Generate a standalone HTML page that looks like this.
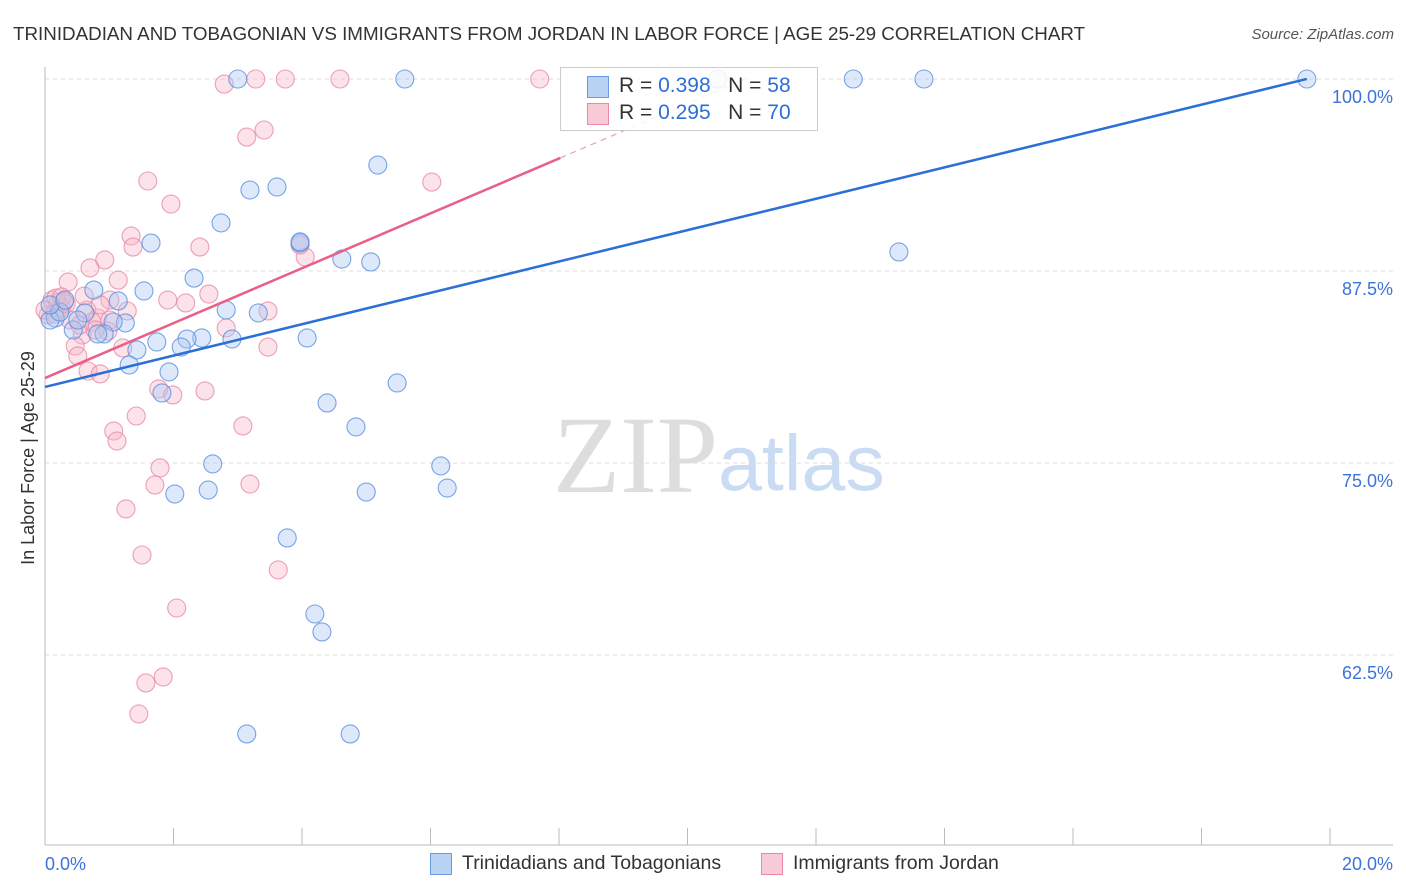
<!DOCTYPE html>
<html><head><meta charset="utf-8"><style>
body{margin:0;background:#fff;font-family:"Liberation Sans",sans-serif;}
#wrap{position:relative;width:1406px;height:892px;overflow:hidden}
</style></head><body>
<div id="wrap">
<svg id="svg" width="1406" height="892" xmlns="http://www.w3.org/2000/svg">
<text x="13" y="40" font-size="18.8" fill="#333">TRINIDADIAN AND TOBAGONIAN VS IMMIGRANTS FROM JORDAN IN LABOR FORCE | AGE 25-29 CORRELATION CHART</text>
<text x="1394" y="39" font-size="15" fill="#555" font-style="italic" text-anchor="end">Source: ZipAtlas.com</text>
<text x="553" y="492" font-size="110" fill="#ddd" font-family="Liberation Serif, serif">ZIP</text>
<text x="718" y="490" font-size="79" fill="#c9dcf3">atlas</text>
<text x="34" y="458" font-size="18" fill="#333" text-anchor="middle" transform="rotate(-90 34 458)">In Labor Force | Age 25-29</text>
<g id="grid"></g><g id="pts"></g><g id="lines"></g>
</svg>
<div style="position:absolute;left:560px;top:67px;width:256px;height:62px;border:1px solid #ccc;background:rgba(255,255,255,0.85);font-size:21px;color:#333">
 <div style="position:absolute;left:26px;top:8px;width:20px;height:20px;background:#b9d3f5;border:1px solid #6a9ae0"></div>
 <div style="position:absolute;left:58px;top:6px">R = <span style="color:#2c6fd6">0.398</span>&nbsp;&nbsp;&nbsp;N = <span style="color:#2c6fd6">58</span></div>
 <div style="position:absolute;left:26px;top:35px;width:20px;height:20px;background:#f8c9d6;border:1px solid #e88aa6"></div>
 <div style="position:absolute;left:58px;top:33px">R = <span style="color:#2c6fd6">0.295</span>&nbsp;&nbsp;&nbsp;N = <span style="color:#2c6fd6">70</span></div>
</div>
<div style="position:absolute;left:430px;top:853px;width:20px;height:20px;background:#b9d3f5;border:1px solid #6a9ae0"></div>
<div style="position:absolute;left:462px;top:852px;font-size:19.5px;color:#333">Trinidadians and Tobagonians</div>
<div style="position:absolute;left:761px;top:853px;width:20px;height:20px;background:#f8c9d6;border:1px solid #e88aa6"></div>
<div style="position:absolute;left:793px;top:852px;font-size:19.5px;color:#333">Immigrants from Jordan</div>
</div>
<script>
const yTicks=[100,87.5,75,62.5];
const yTickLabels=["100.0%","87.5%","75.0%","62.5%"];
const xTickLabels=["0.0%","20.0%"];
const blueX=[3.00,5.60,10.47,12.58,13.68,19.64,5.18,3.19,3.61,2.74,1.65,3.97,4.62,5.07,2.32,0.76,1.54,1.14,2.82,3.32,0.62,1.25,1.06,0.92,0.44,2.44,2.21,2.91,4.08,1.74,1.43,2.12,1.31,1.93,1.82,5.48,4.39,4.84,2.61,6.16,2.02,2.54,5.00,6.26,3.77,4.20,4.31,3.14,4.75,13.29,0.16,0.08,0.23,0.51,0.82,0.08,0.31,3.97];
const blueY=[100,100,100,100,100,100,94.40,92.77,92.97,90.63,89.32,89.32,88.28,88.09,87.04,86.26,86.20,85.55,84.96,84.77,84.77,84.12,84.18,83.40,83.66,83.14,83.07,83.07,83.14,82.88,82.36,82.55,81.38,80.93,79.56,80.21,78.91,77.35,74.94,74.81,72.98,73.24,73.11,73.37,70.12,65.17,64.00,57.36,57.36,88.74,84.44,84.31,84.83,84.31,83.40,85.29,85.61,89.4];
const pinkX=[2.79,3.28,3.74,4.59,7.70,3.41,3.14,1.60,6.02,1.96,1.34,1.37,2.41,4.05,0.93,0.70,1.14,0.36,2.55,1.91,2.19,1.01,0.65,1.28,3.47,0.82,2.82,0.98,0.58,3.47,1.21,0.47,0.51,1.77,1.99,2.49,0.67,0.86,1.42,3.08,1.07,1.12,1.79,1.71,3.19,1.26,1.51,3.63,2.05,1.84,1.57,1.46,3.97,0.11,0.20,0.26,0.05,0.39,0.73,0.78,0.33,0.17,0.61,0.00,0.26,0.86,1.01,0.54,0.30,0.15];
const pinkY=[99.67,100,100,100,100,96.68,96.22,93.36,93.29,91.86,89.78,89.06,89.06,88.41,88.22,87.70,86.91,86.78,86.00,85.61,85.42,85.61,84.96,84.90,84.90,84.44,83.79,83.59,83.33,82.55,82.49,82.62,81.97,79.82,79.43,79.69,80.99,80.80,78.06,77.41,77.08,76.43,74.68,73.57,73.63,72.01,69.01,68.04,65.56,61.07,60.68,58.66,89.19,85.61,85.42,85.09,84.64,84.31,84.18,83.66,85.35,85.74,85.87,84.96,85.81,85.29,84.31,83.98,85.5,84.7];
const blueTrend=[79.95,1.021];
const pinkTrend=[80.53,1.787];
const NS="http://www.w3.org/2000/svg";
const X=v=>45+v/20*1285, Y=v=>79+(100-v)/12.5*192;
function mk(tag,attrs,parent){const e=document.createElementNS(NS,tag);for(const k in attrs)e.setAttribute(k,attrs[k]);parent.appendChild(e);return e;}
const svg=document.getElementById('svg'),grid=document.getElementById('grid'),pts=document.getElementById('pts'),lines=document.getElementById('lines');
yTicks.forEach((t,i)=>{
 const l=mk('line',{x1:45,x2:1393,y1:Y(t),y2:Y(t),stroke:'#ddd','stroke-dasharray':'4 4'},grid);
 
 
 const tx=mk('text',{x:1393,y:Y(t)+24,'font-size':18,fill:'#3b73d8','text-anchor':'end'},grid);
 tx.textContent=yTickLabels[i];
 
 
});
const ax=mk('line',{x1:45,x2:45,y1:67,y2:845,stroke:'#bbb'},grid);


const bx=mk('line',{x1:45,x2:1393,y1:845,y2:845,stroke:'#bbb'},grid);


for(let i=0;i<=10;i++){
 const t=mk('line',{x1:X(i*2),x2:X(i*2),y1:828,y2:845,stroke:'#bbb'},grid);
 
 
}
[[0,'start',45],[20,'end',1393]].forEach((d,i)=>{
 const tx=mk('text',{x:d[2],y:870,'font-size':18,fill:'#3b73d8','text-anchor':d[1]},grid);
 tx.textContent=xTickLabels[i];
 
 
});
function dots(xs,ys,fill,stroke,name){
 xs.forEach((x,i)=>{
  const c=mk('circle',{cx:X(x),cy:Y(ys[i]),r:9,fill:fill,stroke:stroke,'stroke-width':1.1,'fill-opacity':0.4,'stroke-opacity':0.8},pts);
  
  
 });
}
dots(pinkX,pinkY,'#f7b6c8','#e88aa6','pink-point');
dots(blueX,blueY,'#a9c8f2','#5a8fe0','blue-point');
const bl=mk('line',{x1:X(0),y1:Y(blueTrend[0]),x2:X(19.64),y2:Y(blueTrend[0]+blueTrend[1]*19.64),stroke:'#2c6fd6','stroke-width':2.5},lines);


const pl=mk('line',{x1:X(0),y1:Y(pinkTrend[0]),x2:X(8.02),y2:Y(pinkTrend[0]+pinkTrend[1]*8.02),stroke:'#e8608a','stroke-width':2.5},lines);


const pd=mk('line',{x1:X(8.02),y1:Y(pinkTrend[0]+pinkTrend[1]*8.02),x2:X(11),y2:Y(pinkTrend[0]+pinkTrend[1]*11),stroke:'#e8a0b6','stroke-width':1.2,'stroke-dasharray':'6 5'},lines);


</script>
</body></html>
